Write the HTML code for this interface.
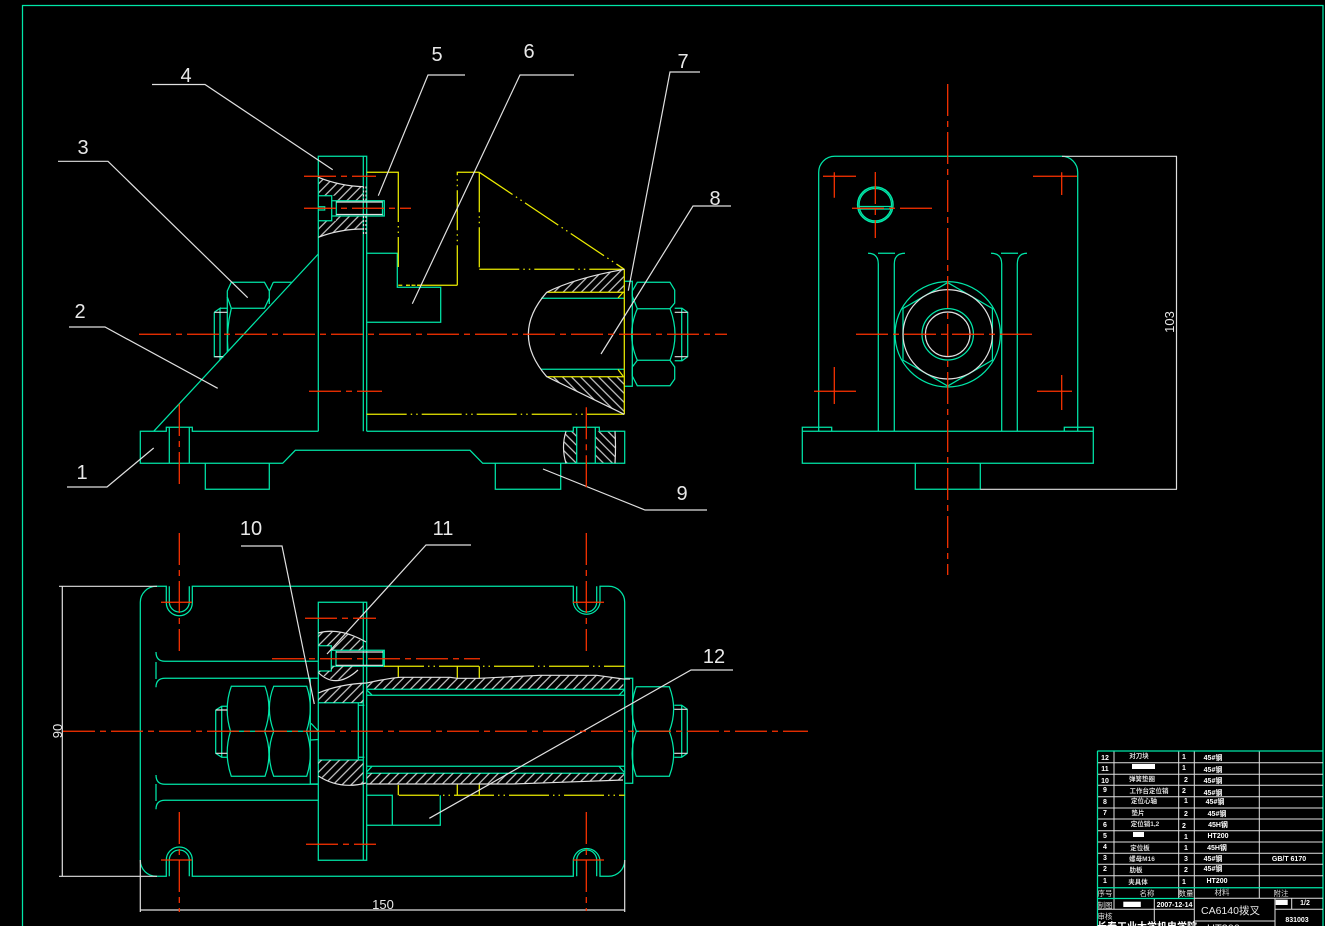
<!DOCTYPE html>
<html><head><meta charset="utf-8"><style>
html,body{margin:0;padding:0;background:#000;width:1325px;height:926px;overflow:hidden}
svg{display:block}
text{font-family:"Liberation Sans","Noto Sans CJK SC",sans-serif;fill:#e8e8e8}
.t{stroke:#00e6a8;stroke-width:1.25;fill:none}
.w{stroke:#e0e0e0;stroke-width:1.2;fill:none}
.y{stroke:#ecec00;stroke-width:1.25;fill:none}
.yd{stroke:#ecec00;stroke-width:1.25;fill:none;stroke-dasharray:40 4 1.5 4 1.5 4}
.r{stroke:#ff3300;stroke-width:1.25;fill:none;stroke-dasharray:32 5 6 5}
.rs{stroke:#ff3300;stroke-width:1.25;fill:none}
.n{font-size:20px;text-anchor:middle}
.c{font-size:6.5px;text-anchor:middle;font-weight:bold;fill:#ddd}
.d{font-size:7px;text-anchor:middle;font-weight:bold;fill:#fff}
</style></head><body>
<svg width="1325" height="926" viewBox="0 0 1325 926" xmlns="http://www.w3.org/2000/svg">
<defs>
<pattern id="h1" width="6.4" height="6.4" patternUnits="userSpaceOnUse" patternTransform="rotate(45)"><line x1="3.2" y1="0" x2="3.2" y2="6.4" stroke="#e0e0e0" stroke-width="1.1"/></pattern>
<pattern id="h2" width="6.4" height="6.4" patternUnits="userSpaceOnUse" patternTransform="rotate(-45)"><line x1="3.2" y1="0" x2="3.2" y2="6.4" stroke="#e0e0e0" stroke-width="1.1"/></pattern>
</defs>
<rect width="1325" height="926" fill="#000"/>

<!-- frame -->
<path class="t" d="M22.5 926V5.5H1323V926"/>

<!-- TOP VIEW hatches -->
<g stroke="none">
<path fill="url(#h1)" d="M318.3 177.3Q340 186 363.3 186.7V200.7H336V195.7H318.3Z"/>
<path fill="url(#h1)" d="M318.3 237.3Q340 229 363.3 229V216H336V220.7H318.3Z"/>
<path fill="url(#h1)" d="M546.7 292.3Q575 278 624.3 269.3V292.3Z"/>
<path fill="url(#h2)" d="M546.7 376.7L624.3 414.3V376.7Z"/>
<path fill="url(#h2)" d="M566 431.3Q561 447 566 463.3H576.7V431.3Z"/>
<path fill="url(#h2)" d="M595.3 431.3V463.3H615V431.3Z"/>
</g>
<!-- top view teal -->
<g class="t">
<path d="M318.3 431.3V156.3H366.7V431.3M363.3 156.3V431.3"/>
<path d="M318.3 431.3H192.3V427.3H166.3V431.3H140.3V463.3H282.7L295.3 450.3H470L482.7 463.3H624.7V431.3H599.3V427.3H573.3V431.3H366.7"/>
<path d="M169.3 427.3V463.3M189.3 427.3V463.3M576.7 427.3V463.3M595.3 427.3V463.3"/>
<path d="M205.3 463.3V489.3H269.3V463.3M495.3 463.3V489.3H560.7V463.3"/>
<path d="M153.7 431.3L318.3 254"/>
<path d="M366.7 253.3H397.3V287.3H440.7V322.3H366.7"/>
<!-- screw -->
<path d="M318.3 195.7H331.7V220.7H318.3M318.3 206.7H324.7V210H318.3M331.7 200.7H384.3V216H331.7M336.3 200.7V216M382.5 200.7V216"/>
<!-- left nut -->
<path d="M231.3 282.3H264.5L269.3 291V298L264.5 308.3H231.3L227.3 297V291ZM269.3 291V304M273.3 282.3H291.7M273.3 282.3L269.3 291"/>
<path d="M231.3 308.3Q226 330 228 351M220 308.3H227.3M214.3 312.3L220 308.3V360M214.3 312.3V356.7H224M227.3 297V352"/>
<!-- right nut -->
<path d="M624.3 281.3H632.3V386.3H624.3"/>
<path d="M637.3 282.3H670L674.7 290V303L670 308.7H637.3L632.3 296V291ZM637.3 308.7Q626 334.5 637.3 360.3M670 308.7Q680 334.5 670 360.3M637.3 360.3H670L674.7 367V379L670 385.7H637.3L632.3 376V367Z"/>
<path d="M674.7 308.3H682L687.7 312.3V356.7L682 360.7H674.7M681.7 308.3V360.7"/>
<path d="M541 298.3H624.3M541 369.3H624.3"/>
<!-- PLAN body -->
<path d="M156.5 586.3H166.3V602.7A13 13 0 0 0 192.3 602.7V586.3H573.3V602.7A13.5 13.5 0 0 0 600 602.7V586.3H608.7A16 16 0 0 1 624.7 602.3V860.3A16 16 0 0 1 608.7 876.3H600V860A13.5 13.5 0 0 0 573.3 860V876.3H192.3V860A13 13 0 0 0 166.3 860V876.3H156.5A16 16 0 0 1 140.3 860.3V602.3A16 16 0 0 1 156.5 586.3Z"/>
<path d="M169.3 586.3V602A10 10 0 0 0 189.3 602V586.3M169.3 876.3V860A10 10 0 0 1 189.3 860V876.3M576.7 586.3V602A10 10 0 0 0 596.7 602V586.3M576.7 876.3V860A10 10 0 0 1 596.7 860V876.3"/>
<path d="M318.3 602.3H366.7V860.3H318.3ZM363.3 602.3V860.3"/>
<!-- plan ribs -->
<path d="M156 652Q156 661.3 165 661.3H318.3M165 678.3Q156 678.3 156 687.3M156 662V679M165 678.3H318.3"/>
<path d="M156 775Q156 784.3 165 784.3H318.3M165 800.3Q156 800.3 156 809.3M156 784V801M165 800.3H318.3"/>
<path d="M310.3 678.3V784H318.3"/>
<!-- plan nuts -->
<path d="M231.3 686.3H265Q273 708 264.7 731.3Q273 754 265 776.3H231.3Q223.5 754 230.5 731.3Q223.5 708 231.3 686.3ZM273.7 686.3H306.7Q314 708 306.5 731.3Q314 754 306.7 776.3H273.7Q265 754 273.7 731.3Q265 708 273.7 686.3ZM230.5 731.3H318"/>
<path d="M215.7 710L221.7 706.3H227.3M215.7 710V753.3L221.7 757.3H227.3M221.7 706.3V757.3"/>
<path d="M311 723.3L318.3 731M311 740L318.3 739.5"/>
<!-- plan screw -->
<path d="M318.3 645.7H331.3V671H318.3M331.3 650.3H384.3V666.3H331.3M336 650.3V666.3M383 650.3V666.3"/>
<path d="M358.3 702.7V760M358.3 705.3H364.3M358.3 757.3H364.3M318.3 702.7H363.3M318.3 760H363.3"/>
<!-- plan sleeve -->
<path d="M366.7 689.3H624.7M366.7 695.3H624.7M366.7 766.3H624.7M366.7 773.3H624.7"/>
<path d="M619 695.3L624 690M619 766.3L624 772M366.7 690L372 695M366.7 772L372 766.3"/>
<path d="M366.7 795.3H392.3V825.3M366.7 825.3H440.3V795.3M392.3 795.3V825.3"/>
<path d="M624.7 678.3H632.7V783.3H624.7"/>
<path d="M636.3 686.7H669.3Q678 709 669.3 731.3Q678 754 669.3 776.3H636.3Q628 754 636.3 731.3Q628 709 636.3 686.7ZM636.3 731.3H669.3"/>
<path d="M674.3 705.3H681.7L687.3 709.3V753.3L681.7 757.3H674.3M681.7 705.3V757.3"/>
<!-- SIDE VIEW -->
<path d="M818.7 431.3V172.3A16 16 0 0 1 834.7 156.3H1061.7A16 16 0 0 1 1077.7 172.3V431.3"/>
<path d="M802.3 431.3H1093.3V463.3H802.3ZM802.3 431.3V427.3H831.7V431.3M1064.3 431.3V427.3H1093.3V431.3"/>
<path d="M915.3 463.3V489.3H980.3V463.3"/>
<path d="M878.3 431.3V264Q878.3 253.3 868 253.3M894.3 431.3V264Q894.3 253.3 905 253.3M878 253.3H895M1001.7 431.3V264Q1001.7 253.3 991 253.3M1017.3 431.3V264Q1017.3 253.3 1027 253.3M1001 253.3H1018"/>
<circle cx="947.7" cy="334.3" r="52.7"/>
<path d="M947.7 282.6L903 308.5V360.2L947.7 386L992.4 360.2V308.5Z"/>
<circle cx="947.7" cy="334.3" r="25.7"/>
<circle cx="875.3" cy="204.7" r="17.7" stroke-width="1.5"/>
<circle cx="875.3" cy="204.7" r="16.2"/>
<path d="M859 206.5H891M859 209H891"/>
</g>
<!-- yellow -->
<g>
<path class="y" d="M366.7 172.3H398.3V196"/>
<path class="y" d="M398.3 196V285.3H422" stroke-dasharray="26 4 1.5 4 1.5 4 30"/>
<path class="yd" d="M457.3 285.3H398.3"/>
<path class="yd" d="M457.3 285.3V172.3H479.3"/>
<path class="yd" d="M479.3 172.3V269.3"/>
<path class="yd" d="M479.3 269.3H624.3"/>
<path class="yd" d="M479.3 172.3L624.3 269.3"/>
<path class="y" d="M624.3 269.3V414.3"/>
<path class="yd" d="M366.7 414.3H624.3"/>
<path class="y" d="M546.7 292.3H624.3M546.7 376.7H624.3M618 298L623 292.5M618 369.5L623 376"/>
<path class="yd" d="M384 666.3H624.7"/>
<path class="yd" d="M399 795.3H624.7"/>
<path class="y" d="M398.3 666.3V677.5M457.3 666.3V678.3M479.3 666.3V678.3M398.3 785V795.3M457.3 784V795.3M479.3 784V795.3"/>
</g>
<!-- white details -->
<g class="w">
<path d="M318.3 177.3Q340 186 363.3 186.7M318.3 237.3Q340 229 363.3 229"/>
<path d="M336.3 202H382.5M336.3 214.5H382.5"/>
<path d="M363.5 186.5V200.5M366 186.5V200.5M363.5 216V234M366 216V234" stroke-dasharray="2 2"/>
<path d="M546.7 292.3Q575 278 624.3 269.3M546.7 292.3Q510 334.3 546.7 376.7L624.3 414.3"/>
<path d="M566 431.3Q561 447 566 463.3M615 431.3Q616 447 615 463.3"/>
<path d="M214.3 312.3H227.3M214.3 356.7H223M674.7 312.3H687.7M674.7 356.7H687.7"/>
<path d="M318.3 633Q340 627 366 642M318.3 693Q340 684 366.7 683"/>
<path d="M318.3 776Q340 790 366 783"/>
<path d="M318.3 672.5Q336 690 358 670"/>
<path d="M336 652H383M336 665.3H383"/>
<path d="M366.7 683Q390 678 400 677.3H450L457.3 678.3H479.3L540 675.3H596.7L623.3 679H630"/>
<path d="M366.7 784H513L550 782.7L623 780"/>
<path d="M215.7 710H227.3M215.7 753.3H227.3M674.3 709.3H687.3M674.3 753.3H687.3"/>
<circle cx="947.7" cy="334.3" r="44.7"/>
<circle cx="947.7" cy="334.3" r="22.3"/>
<!-- leaders -->
<path d="M152 84.5H205L332.7 169.7M58 161.3H108L247.7 297.7M465 75H428L378.3 195.7M574 75H520L412.3 303.7M700 72H670L628.3 290.7M731 206H693L601 354M69 327H105L217.7 388.3M67 487H107L153.7 448M707 510H645L543 469M241 546H282L314.3 704M471 545H426L327 654M733 670H691L429.3 818.3"/>
<!-- dims -->
<path d="M1062 156.3H1177M980.3 489.3H1177M1176.5 156.3V489.3M59 586.3H157M59 876.3H157M62.3 586.3V876.3M140.3 860V912M624.7 860V912M140.3 910H624.7"/>
</g>
<!-- hatch for plan (drawn after outline) -->
<g stroke="none">
<path fill="url(#h1)" d="M318.3 633Q340 627 363.3 642V650.3H331.3V645.7H318.3Z"/>
<path fill="url(#h1)" d="M318.3 671H331.3V666.3H358Q340 690 318.3 672Z"/>
<path fill="url(#h1)" d="M318.3 693Q340 684 363.3 683V702.7H318.3Z"/>
<path fill="url(#h1)" d="M318.3 760H363.3V783Q340 790 318.3 775Z"/>
<path fill="url(#h1)" d="M366.7 683Q390 678 400 677.3H450L457.3 678.3H479.3L540 675.3H596.7L623.3 679V689.3H366.7Z"/>
<path fill="url(#h1)" d="M366.7 773.3H624V780L550 782.7L513 784H366.7Z"/>
</g>
<!-- red -->
<g>
<path class="r" d="M139 334.3H727"/>
<path class="r" d="M304 176.3H376"/>
<path class="r" d="M304 208.3H411"/>
<path class="r" d="M309 391.3H382"/>
<path class="r" d="M179.3 404V485" stroke-dasharray="32 5 5 5"/>
<path class="r" d="M586.3 407.3V488.3" stroke-dasharray="32 5 5 5"/>
<path class="r" d="M947.7 84V575"/>
<path class="r" d="M856 334.3H1035"/>
<path class="r" d="M852 208.3H935"/>
<path class="r" d="M875.3 172V238"/>
<path class="rs" d="M823 176.3H856M834.3 172.3V197.7M1033 176.3H1077M1061.7 172.3V195M814 391.3H856M834.3 367V404M1037 391.3H1072M1061.7 375V410"/>
<path class="r" d="M63 731.3H808"/>
<path class="r" d="M179.3 533V651"/>
<path class="r" d="M179.3 812V912"/>
<path class="r" d="M586.3 533V651"/>
<path class="r" d="M586.3 812V911"/>
<path class="rs" d="M161 602.3H192M161 860H192M573 860H604M573 602.3H604"/>
<path class="r" d="M305 618.3H376"/>
<path class="r" d="M272 658.7H480"/>
<path class="r" d="M306 844.3H376"/>
</g>
<!-- labels -->
<text class="n" x="186" y="82">4</text>
<text class="n" x="83" y="154">3</text>
<text class="n" x="437" y="61">5</text>
<text class="n" x="529" y="58">6</text>
<text class="n" x="683" y="68">7</text>
<text class="n" x="715" y="205">8</text>
<text class="n" x="80" y="318">2</text>
<text class="n" x="82" y="479">1</text>
<text class="n" x="682" y="500">9</text>
<text class="n" x="251" y="535">10</text>
<text class="n" x="443" y="535">11</text>
<text class="n" x="714" y="663">12</text>
<text x="1174" y="322" font-size="13" text-anchor="middle" transform="rotate(-90 1174 322)">103</text>
<text x="62" y="731" font-size="13" text-anchor="middle" transform="rotate(-90 62 731)">90</text>
<text x="383" y="909" font-size="13" text-anchor="middle">150</text>

<!-- table -->
<g class="w" style="stroke-width:1">
<path d="M1097.3 762.7H1323M1097.3 774.3H1323M1097.3 785.3H1323M1097.3 796.7H1323M1097.3 808H1323M1097.3 819H1323M1097.3 830.7H1323M1097.3 842H1323M1097.3 853.3H1323M1097.3 864.3H1323M1097.3 875.7H1323M1194.3 898.3H1323M1097.3 909.3H1194.3M1275 909.3H1323M1194.3 921H1275"/>
<path d="M1114 751V909.3M1178.7 751V898.3M1194.3 751V926M1259.3 751V898.3M1154.3 898.3V921M1275 898.3V926M1291.7 898.3V909.3"/>
</g>
<path class="t" d="M1097.3 751H1323M1097.3 887.7H1323M1097.3 898.5H1194M1097.5 751V926"/>
<rect x="1132" y="764" width="23" height="5" fill="#fff"/>
<rect x="1133" y="832" width="11" height="5" fill="#fff"/>
<rect x="1123.3" y="901.7" width="17.5" height="5.3" fill="#fff"/>
<rect x="1275.7" y="899.7" width="12" height="5.3" fill="#fff"/>
<g>
<text class="d" x="1105" y="760">12</text><text class="c" x="1139" y="758">对刀块</text><text class="d" x="1184" y="759">1</text><text class="d" x="1213" y="760">45#钢</text>
<text class="d" x="1105" y="771">11</text><text class="d" x="1184" y="770">1</text><text class="d" x="1213" y="772">45#钢</text>
<text class="d" x="1105" y="783">10</text><text class="c" x="1142" y="781">弹簧垫圈</text><text class="d" x="1186" y="782">2</text><text class="d" x="1213" y="783">45#钢</text>
<text class="d" x="1105" y="792">9</text><text class="c" x="1149" y="793">工作台定位销</text><text class="d" x="1184" y="793">2</text><text class="d" x="1213" y="795">45#钢</text>
<text class="d" x="1105" y="804">8</text><text class="c" x="1144" y="803">定位心轴</text><text class="d" x="1186" y="803">1</text><text class="d" x="1215" y="804">45#钢</text>
<text class="d" x="1105" y="815">7</text><text class="c" x="1138" y="815">垫片</text><text class="d" x="1186" y="816">2</text><text class="d" x="1217" y="816">45#钢</text>
<text class="d" x="1105" y="827">6</text><text class="c" x="1145" y="826">定位销1,2</text><text class="d" x="1184" y="828">2</text><text class="d" x="1218" y="827">45H钢</text>
<text class="d" x="1105" y="838">5</text><text class="d" x="1186" y="839">1</text><text class="d" x="1218" y="838">HT200</text>
<text class="d" x="1105" y="849">4</text><text class="c" x="1140" y="850">定位板</text><text class="d" x="1186" y="850">1</text><text class="d" x="1217" y="850">45H钢</text>
<text class="d" x="1105" y="860">3</text><text class="c" x="1142" y="861">螺母M16</text><text class="d" x="1186" y="861">3</text><text class="d" x="1213" y="861">45#钢</text><text class="d" x="1289" y="861">GB/T  6170</text>
<text class="d" x="1105" y="871">2</text><text class="c" x="1136" y="872">肋板</text><text class="d" x="1186" y="872">2</text><text class="d" x="1213" y="871">45#钢</text>
<text class="d" x="1105" y="883">1</text><text class="c" x="1138" y="884">夹具体</text><text class="d" x="1184" y="884">1</text><text class="d" x="1217" y="883">HT200</text>
<text class="c" x="1105" y="896" style="font-weight:normal;font-size:7.5px">序号</text>
<text class="c" x="1147" y="896" style="font-weight:normal;font-size:7.5px">名称</text>
<text class="c" x="1186" y="896" style="font-weight:normal;font-size:7.5px">数量</text>
<text class="c" x="1222" y="895" style="font-weight:normal;font-size:7.5px">材料</text>
<text class="c" x="1281" y="896" style="font-weight:normal;font-size:7.5px">附注</text>
<text class="c" x="1105" y="908" style="font-weight:normal;font-size:7.5px">制图</text>
<text class="c" x="1105" y="919" style="font-weight:normal;font-size:7.5px">审核</text>
<text class="d" x="1174.5" y="907" style="font-size:7px">2007-12-14</text>
<text x="1201" y="914" font-size="10.5">CA6140拨叉</text>
<text class="d" x="1305" y="905">1/2</text>
<text class="d" x="1297" y="922">831003</text>
<text x="1207" y="932" font-size="11">HT200</text>
<text x="1097" y="930" font-size="10" font-weight="bold" fill="#fff" style="fill:#fff">长春工业大学机电学院</text>
</g>
</svg>
</body></html>
